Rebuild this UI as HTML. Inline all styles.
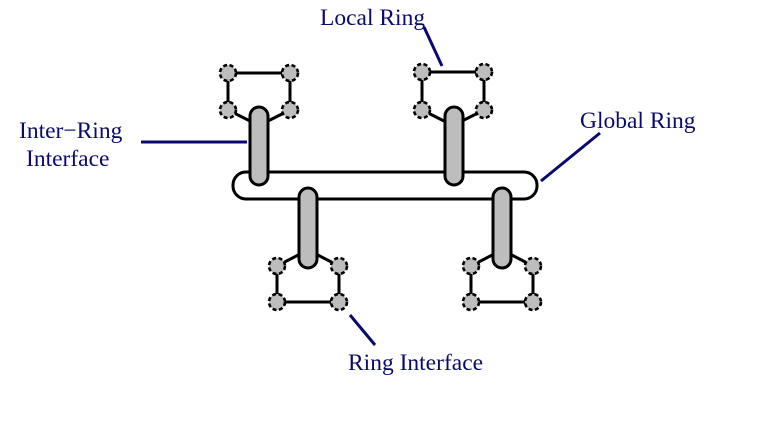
<!DOCTYPE html>
<html><head><style>body{margin:0;background:#fff}svg{display:block}</style></head><body>
<svg width="766" height="422" viewBox="0 0 766 422" xmlns="http://www.w3.org/2000/svg">
<defs>
<g id="n"><circle r="8" fill="#bdbdbd" stroke="#000" stroke-width="2.6" stroke-dasharray="4 2.5"/></g>
</defs>
<g font-family="Liberation Serif, serif" font-size="23.5" fill="#0a0a6e">
<text x="320" y="25">Local Ring</text>
<text x="580" y="128">Global Ring</text>
<text x="19" y="138">Inter−Ring</text>
<text x="26" y="166">Interface</text>
<text x="348" y="370">Ring Interface</text>
</g>
<g stroke="#0a0a6e" stroke-width="3">
<line x1="424" y1="27" x2="442" y2="66"/>
<line x1="600" y1="133" x2="541" y2="181"/>
<line x1="141" y1="142" x2="247" y2="142"/>
<line x1="350" y1="315" x2="375" y2="345"/>
</g>
<rect x="233" y="172" width="304" height="27" rx="13" fill="#fff" stroke="#000" stroke-width="3"/>
<g stroke="#000" stroke-width="3" fill="none">
<polyline points="228,110 228,73 290,73 290,110"/>
<line x1="228" y1="110" x2="252" y2="122"/><line x1="290" y1="110" x2="266" y2="122"/>
<polyline points="422,110 422,72 484,72 484,110"/>
<line x1="422" y1="110" x2="446" y2="122"/><line x1="484" y1="110" x2="460" y2="122"/>
<polyline points="277,266 277,302 339,302 339,266"/>
<line x1="277" y1="266" x2="302" y2="253"/><line x1="339" y1="266" x2="314" y2="253"/>
<polyline points="471,266 471,302 533,302 533,266"/>
<line x1="471" y1="266" x2="496" y2="253"/><line x1="533" y1="266" x2="508" y2="253"/>
</g>
<g fill="#bdbdbd" stroke="#000" stroke-width="3">
<rect x="250" y="107" width="18" height="78" rx="9"/>
<rect x="445" y="107" width="18" height="78" rx="9"/>
<rect x="299" y="188" width="18" height="80" rx="9"/>
<rect x="493" y="188" width="18" height="80" rx="9"/>
</g>
<use href="#n" x="228" y="73"/><use href="#n" x="290" y="73"/><use href="#n" x="228" y="110"/><use href="#n" x="290" y="110"/>
<use href="#n" x="422" y="72"/><use href="#n" x="484" y="72"/><use href="#n" x="422" y="110"/><use href="#n" x="484" y="110"/>
<use href="#n" x="277" y="266"/><use href="#n" x="339" y="266"/><use href="#n" x="277" y="302"/><use href="#n" x="339" y="302"/>
<use href="#n" x="471" y="266"/><use href="#n" x="533" y="266"/><use href="#n" x="471" y="302"/><use href="#n" x="533" y="302"/>
</svg>
</body></html>
